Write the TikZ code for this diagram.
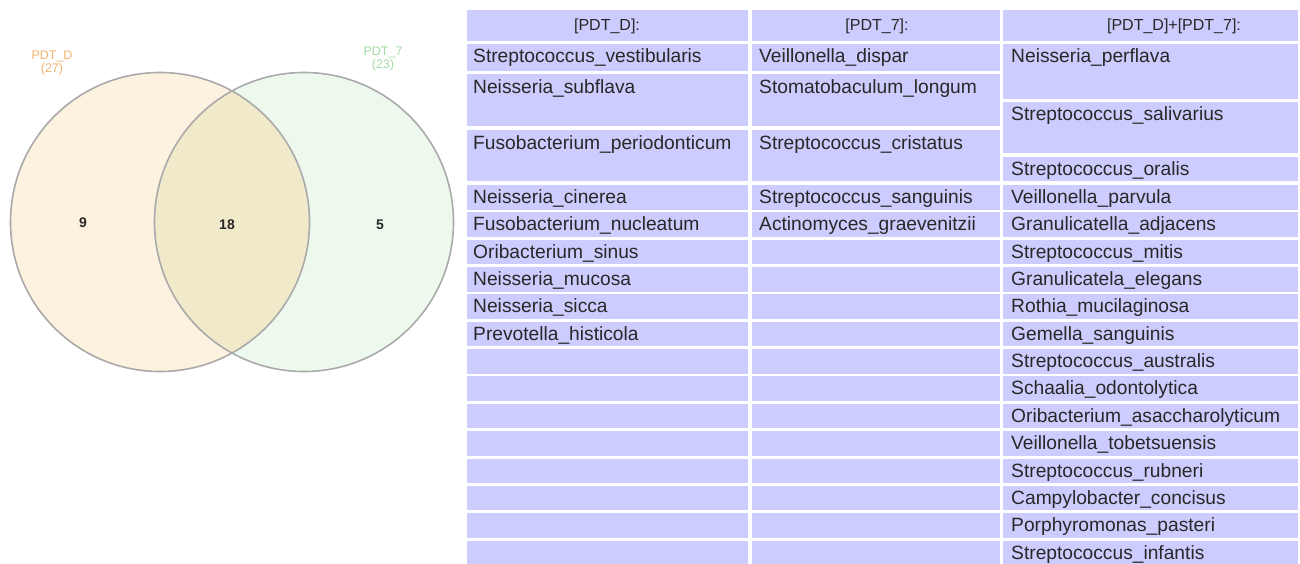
\documentclass[tikz,border=0pt]{standalone}
\usepackage{fontspec}
\setmainfont{Liberation Sans}
\definecolor{cellblue}{RGB}{204,204,255}
\definecolor{txtgray}{RGB}{40,40,40}
\definecolor{peach}{RGB}{253,241,223}
\definecolor{mint}{RGB}{238,249,238}
\definecolor{olive}{RGB}{240,234,203}
\definecolor{ringgray}{RGB}{170,170,170}
\definecolor{labelorange}{RGB}{242,178,110}
\definecolor{labelgreen}{RGB}{165,218,165}

\begin{document}
\begin{tikzpicture}[x=1pt,y=-1pt,
  entry/.style={anchor=base west,inner sep=0pt,text=txtgray,font=\fontsize{19.2}{22}\selectfont},
  head/.style={anchor=base,inner sep=0pt,text=txtgray,font=\fontsize{16}{18}\selectfont},
  setlabel/.style={align=center,inner sep=0pt,font=\fontsize{12.5}{13.5}\selectfont},
  count/.style={inner sep=0pt,text=txtgray,font=\fontsize{14}{16}\selectfont\bfseries}]
   \useasboundingbox (0,0) rectangle (1300,563);

   \fill[peach] (160,222) circle (149.5);
   \fill[mint] (304,222) circle (149.5);
   \begin{scope}
     \clip (160,222) circle (149.5);
     \fill[olive] (304,222) circle (149.5);
   \end{scope}
   \draw[ringgray,line width=1.6pt] (160,222) circle (149.5);
   \draw[ringgray,line width=1.6pt] (304,222) circle (149.5);

   \node[setlabel,text=labelorange] (lblD) at (52,63) {PDT\_D\\(27)};
   \node[setlabel,text=labelgreen] (lbl7) at (383,59) {PDT\_7\\(23)};
   \node[count] (onlyD) at (83,223) {9};
   \node[count] (both) at (227,225) {18};
   \node[count] (only7) at (380,225) {5};

   \fill[cellblue] (467,10) rectangle (748,41);
   \fill[cellblue] (752,10) rectangle (1000,41);
   \fill[cellblue] (1003,10) rectangle (1298,41);

   \fill[cellblue] (467,44) rectangle (748,71);
   \fill[cellblue] (467,74) rectangle (748,126);
   \fill[cellblue] (467,130) rectangle (748,181);
   \fill[cellblue] (752,44) rectangle (1000,71);
   \fill[cellblue] (752,74) rectangle (1000,126);
   \fill[cellblue] (752,130) rectangle (1000,181);
   \fill[cellblue] (1003,44) rectangle (1298,99);
   \fill[cellblue] (1003,102) rectangle (1298,153);
   \fill[cellblue] (1003,157) rectangle (1298,181);

   \foreach \k in {0,...,13} {
     \fill[cellblue] (467,{185+27.35*\k}) rectangle (748,{209.5+27.35*\k});
     \fill[cellblue] (752,{185+27.35*\k}) rectangle (1000,{209.5+27.35*\k});
     \fill[cellblue] (1003,{185+27.35*\k}) rectangle (1298,{209.5+27.35*\k});
   }

   \node[head] (hD) at (607,30) {[PDT\_D]:};
   \node[head] (h7) at (877,30) {[PDT\_7]:};
   \node[head] (hDh7) at (1174,30) {[PDT\_D]+[PDT\_7]:};

   \node[entry] (d1) at (473,62.5) {Streptococcus\_vestibularis};
   \node[entry] (d2) at (473,93) {Neisseria\_subflava};
   \node[entry] (d3) at (473,149) {Fusobacterium\_periodonticum};
   \node[entry] (d4) at (473,203.5) {Neisseria\_cinerea};
   \node[entry] (d5) at (473,230.85) {Fusobacterium\_nucleatum};
   \node[entry] (d6) at (473,258.2) {Oribacterium\_sinus};
   \node[entry] (d7) at (473,285.55) {Neisseria\_mucosa};
   \node[entry] (d8) at (473,312.9) {Neisseria\_sicca};
   \node[entry] (d9) at (473,340.25) {Prevotella\_histicola};

   \node[entry] (s1) at (759,62.5) {Veillonella\_dispar};
   \node[entry] (s2) at (759,93) {Stomatobaculum\_longum};
   \node[entry] (s3) at (759,149) {Streptococcus\_cristatus};
   \node[entry] (s4) at (759,203.5) {Streptococcus\_sanguinis};
   \node[entry] (s5) at (759,230.85) {Actinomyces\_graevenitzii};

   \node[entry] (b1) at (1011,62.5) {Neisseria\_perflava};
   \node[entry] (b2) at (1011,120.5) {Streptococcus\_salivarius};
   \node[entry] (b3) at (1011,175.5) {Streptococcus\_oralis};
   \node[entry] (b4) at (1011,203.5) {Veillonella\_parvula};
   \node[entry] (b5) at (1011,230.85) {Granulicatella\_adjacens};
   \node[entry] (b6) at (1011,258.2) {Streptococcus\_mitis};
   \node[entry] (b7) at (1011,285.55) {Granulicatela\_elegans};
   \node[entry] (b8) at (1011,312.9) {Rothia\_mucilaginosa};
   \node[entry] (b9) at (1011,340.25) {Gemella\_sanguinis};
   \node[entry] (b10) at (1011,367.6) {Streptococcus\_australis};
   \node[entry] (b11) at (1011,394.95) {Schaalia\_odontolytica};
   \node[entry] (b12) at (1011,422.3) {Oribacterium\_asaccharolyticum};
   \node[entry] (b13) at (1011,449.65) {Veillonella\_tobetsuensis};
   \node[entry] (b14) at (1011,477) {Streptococcus\_rubneri};
   \node[entry] (b15) at (1011,504.35) {Campylobacter\_concisus};
   \node[entry] (b16) at (1011,531.7) {Porphyromonas\_pasteri};
   \node[entry] (b17) at (1011,559.05) {Streptococcus\_infantis};
  \end{tikzpicture}
\end{document}
